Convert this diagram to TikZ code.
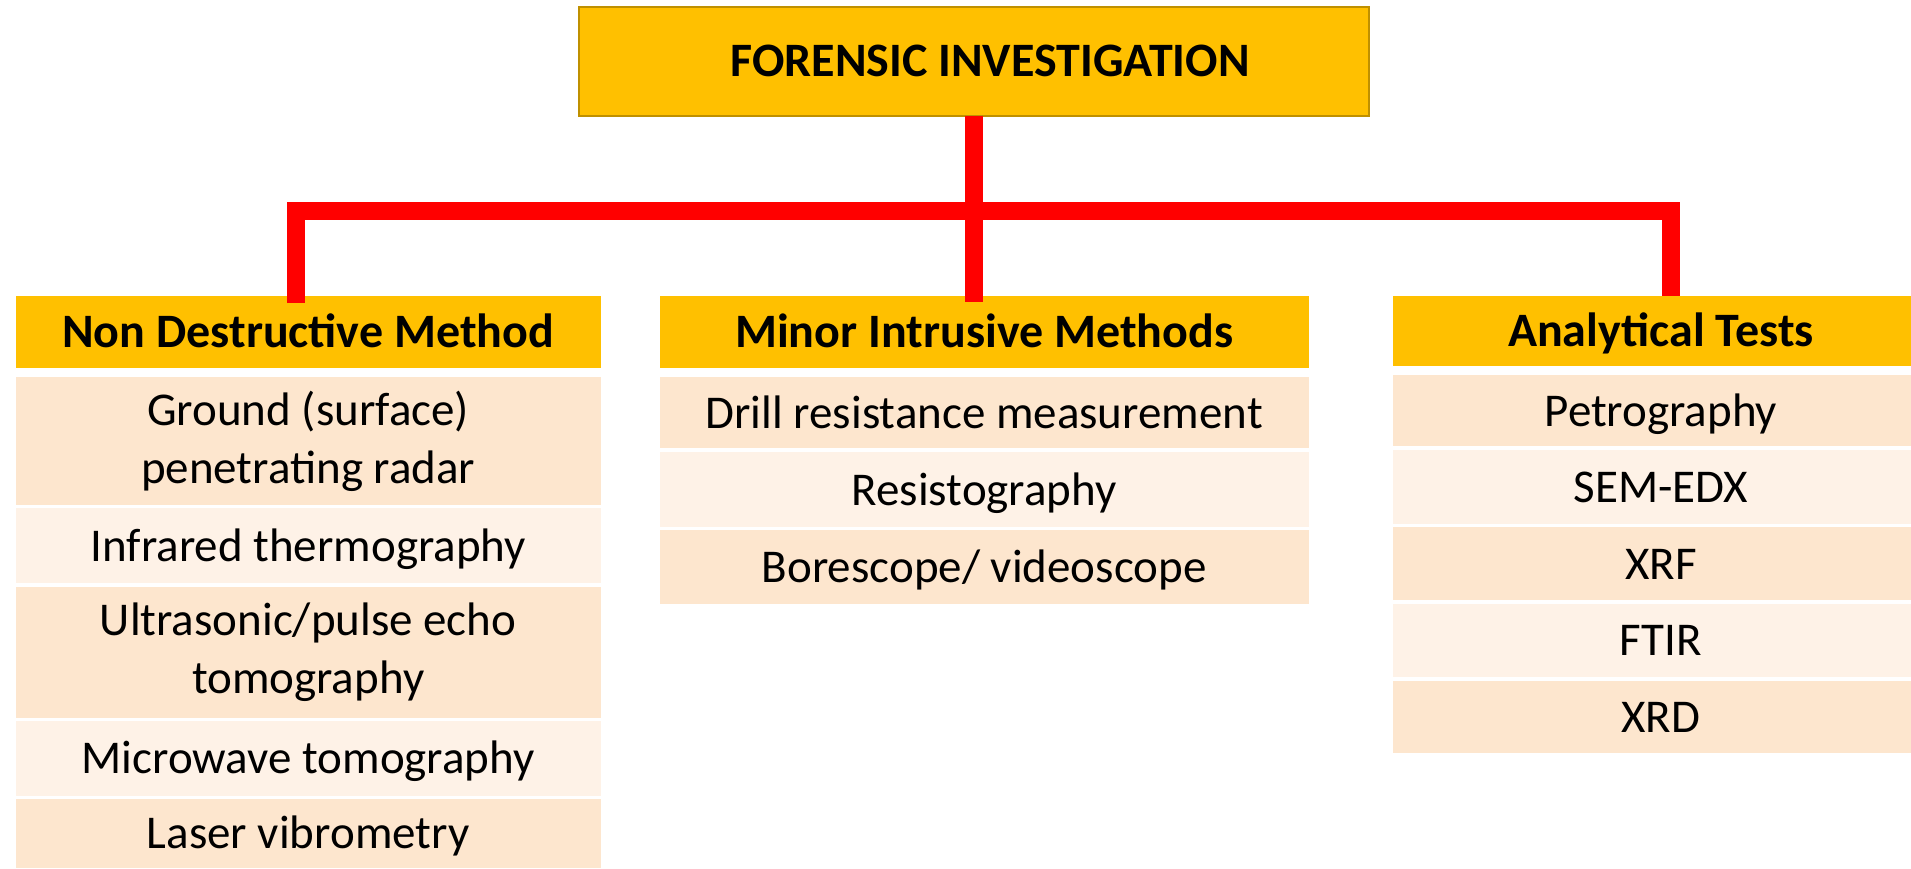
\documentclass[tikz,border=0pt]{standalone}
\usepackage{fontspec}
\setmainfont{Carlito}
\usetikzlibrary{calc}
\definecolor{gold}{HTML}{FFC000}
\definecolor{goldline}{HTML}{BF9000}
\definecolor{peach}{HTML}{FDE6CE}
\definecolor{cream}{HTML}{FEF2E7}
\definecolor{conn}{HTML}{FF0000}
\begin{document}
\begin{tikzpicture}[x=1pt,y=-1pt,
  cell/.style={anchor=north west, inner sep=0pt, outer sep=0pt, align=center, font=\fontsize{47}{58}\selectfont},
  oneline/.style={text height=31pt, text depth=0pt},
  hdr/.style={cell, oneline, fill=gold, font=\fontsize{48}{58}\selectfont\bfseries},
  dark/.style={cell, fill=peach},
  light/.style={cell, fill=cream},
  topbox/.style={cell, oneline, fill=gold, draw=goldline, line width=2pt, font=\fontsize{48}{58}\selectfont\bfseries},
  link/.style={draw=conn, line width=18pt}
]
\path[use as bounding box] (0,0) rectangle (1911,869);
\clip (0,0) rectangle (1911,869);

% top
\node[topbox, minimum width=790pt, minimum height=109pt] (top) at (579,6.7) {\hspace*{32pt}FORENSIC INVESTIGATION};

% column 1
\node[hdr, minimum width=585.3pt, minimum height=72.3pt] (h1) at (15.5,296) {Non Destructive Method};
\node[dark, minimum width=585.3pt, minimum height=127.7pt, text depth=8pt] (a1) at (15.5,377.3) {Ground (surface)\\penetrating radar};
\node[light, oneline, minimum width=585.3pt, minimum height=75pt] (a2) at (15.5,508.3) {Infrared thermography};
\node[dark, minimum width=585.3pt, minimum height=131pt] (a3) at (15.5,586.7) {Ultrasonic/pulse echo\\tomography};
\node[light, oneline, minimum width=585.3pt, minimum height=74.7pt] (a4) at (15.5,721) {Microwave tomography};
\node[dark, oneline, minimum width=585.3pt, minimum height=68.5pt] (a5) at (15.5,799) {Laser vibrometry};

% column 2
\node[hdr, minimum width=649.1pt, minimum height=72.3pt] (h2) at (659.6,296) {Minor Intrusive Methods};
\node[dark, oneline, minimum width=649.1pt, minimum height=71pt] (b1) at (659.6,377.3) {Drill resistance measurement};
\node[light, oneline, minimum width=649.1pt, minimum height=74.4pt] (b2) at (659.6,452.3) {Resistography};
\node[dark, oneline, minimum width=649.1pt, minimum height=74.3pt] (b3) at (659.6,530) {Borescope/ videoscope};

% column 3
\node[hdr, minimum width=536.2pt, minimum height=70pt] (h3) at (1392.8,296) {Analytical Tests};
\node[dark, oneline, minimum width=536.2pt, minimum height=71pt] (c1) at (1392.8,375) {Petrography};
\node[light, oneline, minimum width=536.2pt, minimum height=74pt] (c2) at (1392.8,449.5) {SEM-EDX};
\node[dark, oneline, minimum width=536.2pt, minimum height=73pt] (c3) at (1392.8,527) {XRF};
\node[light, oneline, minimum width=536.2pt, minimum height=73.5pt] (c4) at (1392.8,603.5) {FTIR};
\node[dark, oneline, minimum width=536.2pt, minimum height=72.5pt] (c5) at (1392.8,680.5) {XRD};

% connectors
\coordinate (bar) at (975,211);
\coordinate (l1) at (296,303);
\coordinate (r1) at (1671,296);
\draw[link] (l1) |- (bar) -| (r1);
\draw[link] (top.south) -- ($(top.south |- h2.north)+(0,6)$);
\end{tikzpicture}
\end{document}
